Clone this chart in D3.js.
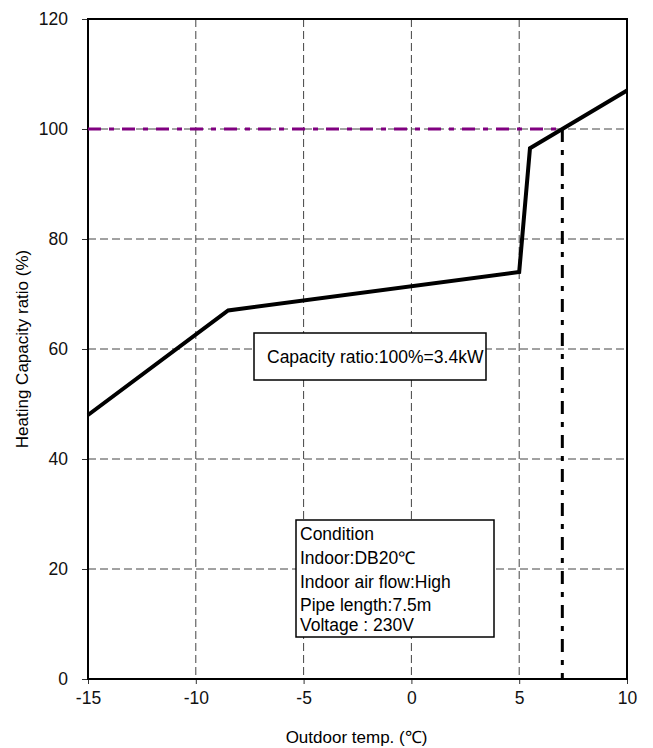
<!DOCTYPE html>
<html>
<head>
<meta charset="utf-8">
<script src="https://cdn.jsdelivr.net/npm/d3@7"></script>
<style>
  body { margin: 0; background: #fff; }
  svg text { font-family: "Liberation Sans", Arial, sans-serif; }
</style>
</head>
<body>
<div id="chart"></div>
<script>
// heating capacity ratio vs outdoor temperature

const temps = [-15, -8.5, 5, 5.5, 7, 10];
const ratios = [48, 67, 74, 96.5, 100, 107];
const xTicks = [-15, -10, -5, 0, 5, 10];
const yTicks = [0, 20, 40, 60, 80, 100, 120];
const ratedTemp = 7;
const ratedRatio = 100;
const capacityNote = "Capacity ratio:100%=3.4kW";
const conditionLines = ["Condition", "Indoor:DB20\u2103", "Indoor air flow:High", "Pipe length:7.5m", "Voltage : 230V"];

const svgWidth = 653;
const svgHeight = 748;
const margin = { top: 19, right: 26, bottom: 69, left: 88 };
const width = svgWidth - margin.left - margin.right;
const height = svgHeight - margin.top - margin.bottom;

const svg = d3.select("#chart")
    .append("svg")
    .attr("width", svgWidth)
    .attr("height", svgHeight);

const chart = svg.append("g")
    .attr("transform", `translate(${margin.left},${margin.top})`);

const x = d3.scaleLinear().domain([-15, 10]).range([0, width]);
const y = d3.scaleLinear().domain([0, 120]).range([height, 0]);

// grid
chart.selectAll(".vgrid")
    .data(xTicks.slice(1, -1))
    .enter()
    .append("line")
    .attr("x1", d => x(d)).attr("x2", d => x(d))
    .attr("y1", 0).attr("y2", height)
    .attr("stroke", "#444")
    .attr("stroke-width", 1)
    .attr("stroke-dasharray", "8,4");

chart.selectAll(".hgrid")
    .data(yTicks.slice(1, -1))
    .enter()
    .append("line")
    .attr("x1", 0).attr("x2", width)
    .attr("y1", d => y(d)).attr("y2", d => y(d))
    .attr("stroke", "#444")
    .attr("stroke-width", 1)
    .attr("stroke-dasharray", "8,4");

// axes
const xAxis = chart.append("g")
    .attr("transform", `translate(0,${height})`)
    .call(d3.axisBottom(x).tickValues(xTicks).tickSize(5).tickPadding(8).tickFormat(d => String(d)));
const yAxis = chart.append("g")
    .call(d3.axisLeft(y).tickValues(yTicks).tickSize(6).tickPadding(14).tickFormat(d => String(d)));

[xAxis, yAxis].forEach(a => {
    a.select(".domain").remove();
    a.selectAll("line").attr("stroke", "#333");
    a.selectAll("text").attr("font-size", "17.5px").attr("fill", "#111");
});

// frame
chart.append("rect")
    .attr("width", width)
    .attr("height", height)
    .attr("fill", "none")
    .attr("stroke", "#000")
    .attr("stroke-width", 2);

// 100% reference
chart.append("line")
    .attr("x1", x(-15)).attr("x2", x(ratedTemp))
    .attr("y1", y(ratedRatio)).attr("y2", y(ratedRatio))
    .attr("stroke", "#800080")
    .attr("stroke-width", 3)
    .attr("stroke-dasharray", "13,8,5,8");

chart.append("line")
    .attr("x1", x(ratedTemp)).attr("x2", x(ratedTemp))
    .attr("y1", y(ratedRatio)).attr("y2", y(0))
    .attr("stroke", "#000")
    .attr("stroke-width", 3)
    .attr("stroke-dasharray", "13,8,5,8");

// capacity curve
const pts = temps.map((t, i) => [t, ratios[i]]);
chart.append("path")
    .datum(pts)
    .attr("fill", "none")
    .attr("stroke", "#000")
    .attr("stroke-width", 4)
    .attr("stroke-linejoin", "miter")
    .attr("d", d3.line().x(d => x(d[0])).y(d => y(d[1])));

// note boxes
const note = svg.append("g").attr("transform", "translate(254,333)");
note.append("rect")
    .attr("width", 232).attr("height", 47)
    .attr("fill", "#fff").attr("stroke", "#000").attr("stroke-width", 1.5);
note.append("text")
    .attr("x", 13).attr("y", 30)
    .attr("font-size", "17.5px")
    .text(capacityNote);

const cond = svg.append("g").attr("transform", "translate(296,520)");
cond.append("rect")
    .attr("width", 198).attr("height", 117)
    .attr("fill", "#fff").attr("stroke", "#000").attr("stroke-width", 1.5);
const lineY = [20, 44, 68, 91, 111];
cond.selectAll("text")
    .data(conditionLines)
    .enter()
    .append("text")
    .attr("x", 4)
    .attr("y", (d, i) => lineY[i])
    .attr("font-size", "17.5px")
    .text(d => d);

// axis titles
svg.append("text")
    .attr("x", margin.left + width / 2 - 1)
    .attr("y", 743)
    .attr("text-anchor", "middle")
    .attr("font-size", "17px")
    .text("Outdoor temp. (\u2103)");

svg.append("text")
    .attr("transform", `translate(28,${margin.top + height / 2}) rotate(-90)`)
    .attr("text-anchor", "middle")
    .attr("font-size", "17px")
    .text("Heating Capacity ratio (%)");
</script>
</body>
</html>
